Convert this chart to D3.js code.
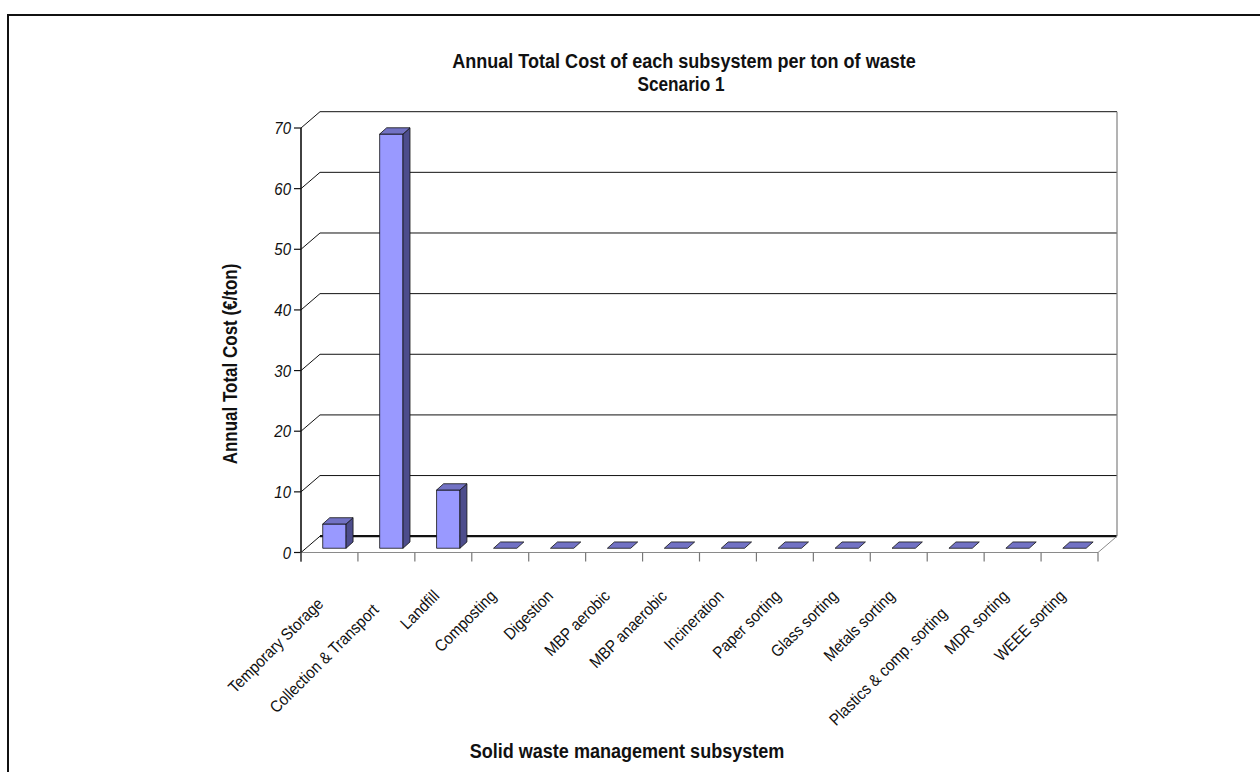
<!DOCTYPE html>
<html>
<head>
<meta charset="utf-8">
<script src="https://cdn.jsdelivr.net/npm/d3@7/dist/d3.min.js"></script>
<style>
  html, body { margin: 0; padding: 0; background: #fff; }
  svg { display: block; }
  text { font-family: "Liberation Sans", Arial, sans-serif; fill: #111; }
</style>
</head>
<body>
<svg id="chart" width="1260" height="772"></svg>
<script>
// Annual total cost per ton of waste, by subsystem (Scenario 1)
const categories = [
  "Temporary Storage", "Collection & Transport", "Landfill", "Composting",
  "Digestion", "MBP aerobic", "MBP anaerobic", "Incineration",
  "Paper sorting", "Glass sorting", "Metals sorting",
  "Plastics & comp. sorting", "MDR sorting", "WEEE sorting"
];
const costs = [4.0, 68.3, 9.6, 0, 0, 0, 0, 0, 0, 0, 0, 0, 0, 0];
const yTicks = [0, 10, 20, 30, 40, 50, 60, 70];
const titleLines = ["Annual Total Cost of each subsystem per ton of waste", "Scenario 1"];
const yTitle = "Annual Total Cost (€/ton)";
const xTitle = "Solid waste management subsystem";

const svg = d3.select("#chart");

// frame of the chart area
svg.append("rect")
  .attr("x", 8).attr("y", 15).attr("width", 1400).attr("height", 900)
  .attr("fill", "none").attr("stroke", "#111").attr("stroke-width", 2);

// front plane of the 3D box and its depth offset
const X0 = 301, X1 = 1098;
const depth = { dx: 19, dy: -16.3 };

const y = d3.scaleLinear().domain([0, 70]).range([552.5, 128]);
const x = d3.scaleBand().domain(categories).range([X0, X1])
  .paddingInner(0.59).paddingOuter(0.295);

const line = d3.line();

// text in a narrow face: glyphs keep their height, advance is compressed
function narrowText(g, str, tx, ty, opts) {
  const rot = opts.rotate || 0;
  const sx = opts.sx || 0.88;
  return g.append("text")
    .attr("transform", `translate(${tx},${ty}) rotate(${rot}) scale(${sx},1)`)
    .attr("text-anchor", opts.anchor || "middle")
    .attr("font-size", opts.size)
    .attr("font-weight", opts.weight || null)
    .attr("font-style", opts.style || null)
    .attr("dy", opts.dy || null)
    .text(str);
}

// side wall (left) diagonals and back wall gridlines
const walls = svg.append("g");
yTicks.forEach(t => {
  const yy = y(t);
  walls.append("path")
    .attr("d", line([[X0, yy], [X0 + depth.dx, yy + depth.dy]]))
    .attr("stroke", "#111").attr("stroke-width", 1).attr("fill", "none");
  walls.append("path")
    .attr("d", line([[X0 + depth.dx, yy + depth.dy], [X1 + depth.dx, yy + depth.dy]]))
    .attr("stroke", "#111").attr("stroke-width", t === 0 ? 2.2 : 1).attr("fill", "none");
});
// right edge of the back wall and floor outline
walls.append("path")
  .attr("d", line([[X1 + depth.dx, y(0) + depth.dy], [X1 + depth.dx, y(70) + depth.dy]]))
  .attr("stroke", "#808080").attr("stroke-width", 1.2).attr("fill", "none");
walls.append("path")
  .attr("d", line([[X0, y(0)], [X1, y(0)], [X1 + depth.dx, y(0) + depth.dy]]))
  .attr("stroke", "#8a8a8a").attr("stroke-width", 1).attr("fill", "none");

// value axis line with ticks and labels
const yAxis = svg.append("g");
yAxis.append("path")
  .attr("d", line([[X0, y(70)], [X0, y(0) + 9]]))
  .attr("stroke", "#111").attr("stroke-width", 1.6).attr("fill", "none");
yTicks.forEach(t => {
  yAxis.append("path")
    .attr("d", line([[X0 - 7, y(t)], [X0, y(t)]]))
    .attr("stroke", "#111").attr("stroke-width", 1.2);
  narrowText(yAxis, t, X0 - 10, y(t), { size: 17, style: "italic", anchor: "end", dy: "0.36em", sx: 0.88 });
});

// category ticks along the floor front edge
const step = x.step();
d3.range(categories.length + 1).forEach(i => {
  const xx = X0 + i * step;
  svg.append("path")
    .attr("d", line([[xx, y(0)], [xx, y(0) + 9]]))
    .attr("stroke", "#777").attr("stroke-width", 1.2);
});

// 3D columns
const front = { dx: depth.dx * 0.26, dy: depth.dy * 0.26 };
const barDepth = { dx: 7, dy: -6.3 };
const w = x.bandwidth();
const bars = svg.append("g").attr("stroke", "#111").attr("stroke-width", 0.8)
  .attr("stroke-linejoin", "round");
categories.forEach((c, i) => {
  const v = costs[i];
  const left = x(c) + front.dx;
  const base = y(0) + front.dy;
  const top = y(v) + front.dy;
  if (v > 0) {
    bars.append("path")
      .attr("d", line([[left, top], [left + w, top], [left + w, base], [left, base]]) + "Z")
      .attr("fill", "#9999ff");
    bars.append("path")
      .attr("d", line([[left + w, top], [left + w + barDepth.dx, top + barDepth.dy],
                       [left + w + barDepth.dx, base + barDepth.dy], [left + w, base]]) + "Z")
      .attr("fill", "#4d4d8c");
  }
  bars.append("path")
    .attr("d", line([[left, top], [left + w, top], [left + w + barDepth.dx, top + barDepth.dy],
                     [left + barDepth.dx, top + barDepth.dy]]) + "Z")
    .attr("fill", "#7272c4");
});

// rotated category labels; long labels sit a little lower
const labels = svg.append("g");
const labelSx = 0.9;
categories.forEach(c => {
  const cx = x(c) + w / 2;
  const t = narrowText(labels, c, 0, 0, { size: 16.5, anchor: "end", rotate: -45, sx: labelSx });
  const len = t.node().getComputedTextLength() * labelSx;
  const extra = Math.max(0, len - 100);
  const px = cx - 3 - extra * 0.08;
  const py = 597 + extra * 0.3;
  t.attr("transform", `translate(${px},${py}) rotate(-45) scale(${labelSx},1)`);
});

// titles
narrowText(svg, titleLines[0], 684, 68, { size: 20.5, weight: "bold", sx: 0.88 });
narrowText(svg, titleLines[1], 681, 91, { size: 20.5, weight: "bold", sx: 0.84 });
narrowText(svg, yTitle, 237, 364, { size: 20, weight: "bold", rotate: -90, sx: 0.85 });
narrowText(svg, xTitle, 627, 758, { size: 20.5, weight: "bold", sx: 0.88 });
</script>
</body>
</html>
